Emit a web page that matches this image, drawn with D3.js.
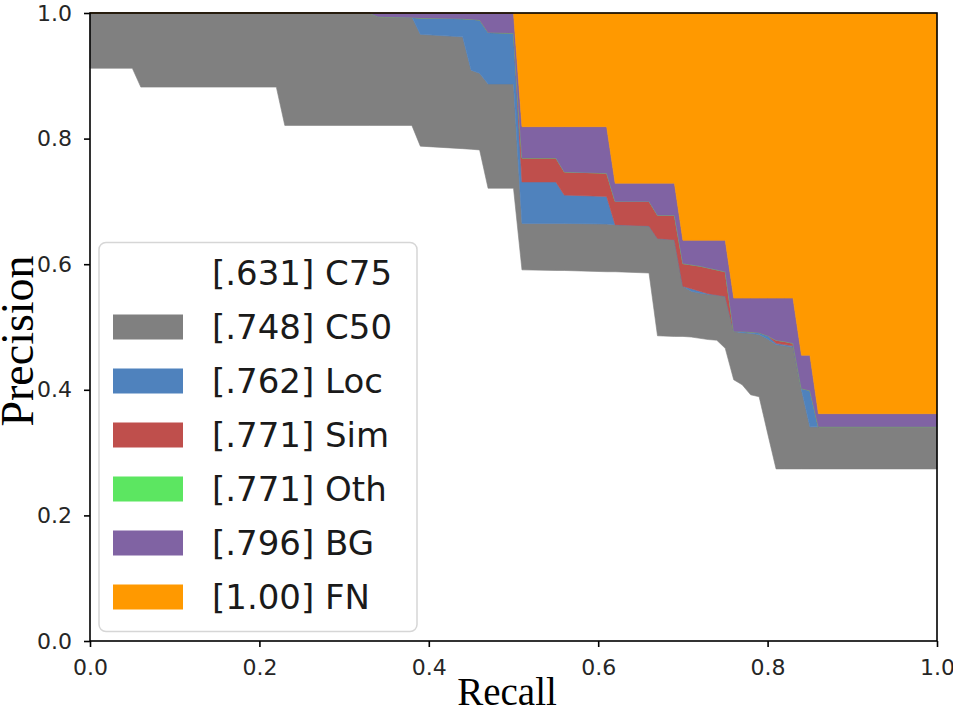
<!DOCTYPE html>
<html>
<head>
<meta charset="utf-8">
<script src="https://cdn.jsdelivr.net/npm/d3@7"></script>
<style>
  body { margin: 0; background: #fff; }
  svg { display: block; }
</style>
</head>
<body>
<svg width="953" height="711"></svg>
<script>
// recall breakpoints shared by every curve
var recall = [0, 0.05, 0.06, 0.22, 0.23, 0.33, 0.34, 0.38, 0.39, 0.44, 0.45, 0.46, 0.47, 0.50,
              0.51, 0.55, 0.56, 0.61, 0.62, 0.66, 0.67, 0.69, 0.70, 0.71, 0.72, 0.73, 0.74, 0.75,
              0.76, 0.77, 0.78, 0.79, 0.80, 0.81, 0.82, 0.83, 0.84, 0.85, 0.86, 1.00];

// precision of each curve at those recall values
var pC75 = [0.912, 0.912, 0.882, 0.882, 0.821, 0.821, 0.821, 0.821, 0.788, 0.784, 0.783, 0.782, 0.721, 0.721,
            0.591, 0.590, 0.590, 0.588, 0.588, 0.586, 0.486, 0.485, 0.485, 0.484, 0.482, 0.480, 0.479, 0.466,
            0.416, 0.408, 0.392, 0.389, 0.331, 0.274, 0.274, 0.274, 0.274, 0.274, 0.274, 0.274];
var pC50 = [1, 1, 1, 1, 1, 1, 0.994, 0.994, 0.966, 0.962, 0.909, 0.904, 0.887, 0.887,
            0.665, 0.665, 0.665, 0.664, 0.663, 0.661, 0.641, 0.639, 0.565, 0.557, 0.554, 0.552, 0.551, 0.549,
            0.493, 0.491, 0.490, 0.488, 0.481, 0.472, 0.470, 0.468, 0.400, 0.341, 0.341, 0.341];
var pLoc = [1, 1, 1, 1, 1, 1, 0.994, 0.993, 0.992, 0.991, 0.990, 0.989, 0.969, 0.968,
            0.731, 0.731, 0.710, 0.708, 0.663, 0.661, 0.641, 0.639, 0.565, 0.561, 0.557, 0.553, 0.551, 0.549,
            0.493, 0.493, 0.492, 0.491, 0.486, 0.474, 0.472, 0.470, 0.402, 0.399, 0.341, 0.341];
var pSim = [1, 1, 1, 1, 1, 1, 0.994, 0.993, 0.992, 0.991, 0.990, 0.989, 0.969, 0.968,
            0.769, 0.769, 0.747, 0.745, 0.700, 0.700, 0.678, 0.678, 0.601, 0.599, 0.597, 0.594, 0.591, 0.588,
            0.493, 0.493, 0.492, 0.491, 0.486, 0.479, 0.477, 0.474, 0.402, 0.399, 0.341, 0.341];
var pOth = pSim.slice();
var pBG  = [1, 1, 1, 1, 1, 1, 1, 1, 1, 1, 1, 1, 1, 1,
            0.819, 0.819, 0.819, 0.819, 0.729, 0.729, 0.729, 0.729, 0.638, 0.638, 0.638, 0.638, 0.638, 0.638,
            0.546, 0.546, 0.546, 0.546, 0.546, 0.546, 0.546, 0.546, 0.455, 0.455, 0.362, 0.362];
var pFN  = recall.map(function() { return 1; });

var types  = ["C75", "C50", "Loc", "Sim", "Oth", "BG", "FN"];
var aps    = ["[.631]", "[.748]", "[.762]", "[.771]", "[.771]", "[.796]", "[1.00]"];
var colors = ["#ffffff", "#808080", "#4f82bd", "#bf4f4c", "#5ce661", "#8063a3", "#ff9900"];
var curves = [pC75, pC50, pLoc, pSim, pOth, pBG, pFN];

var ticks = [0, 0.2, 0.4, 0.6, 0.8, 1.0];

const svg = d3.select("svg");
var plotLeft = 90, plotRight = 937, plotTop = 13, plotBottom = 641;

var x = d3.scaleLinear().domain([0, 1]).range([plotLeft, plotRight]);
var y = d3.scaleLinear().domain([0, 1]).range([plotBottom, plotTop]);

// filled bands between successive curves
var layers = curves.map(function(c, k) {
    var lower = k == 0 ? recall.map(function() { return 0; }) : curves[k - 1];
    return recall.map(function(r, i) { return {r: r, lo: lower[i], hi: c[i]}; });
});

var area = d3.area()
    .x(function(d) { return x(d.r); })
    .y0(function(d) { return y(d.lo); })
    .y1(function(d) { return y(d.hi); });

svg.append("g")
  .selectAll("path")
  .data(layers)
  .join("path")
    .attr("d", area)
    .attr("fill", function(d, k) { return colors[k]; })
    .attr("stroke", function(d, k) { return colors[k]; })
    .attr("stroke-width", 0.6);

// axes
var xAxis = d3.axisBottom(x).tickValues(ticks).tickFormat(d3.format(".1f")).tickSize(6).tickPadding(12);
var yAxis = d3.axisLeft(y).tickValues(ticks).tickFormat(d3.format(".1f")).tickSize(6).tickPadding(12);

var gx = svg.append("g").attr("transform", "translate(0," + plotBottom + ")").call(xAxis);
var gy = svg.append("g").attr("transform", "translate(" + plotLeft + ",0)").call(yAxis);

[gx, gy].forEach(function(g) {
    g.select(".domain").remove();
    g.selectAll(".tick line").attr("stroke", "#000").attr("stroke-width", 1.6);
    g.selectAll(".tick text")
      .attr("fill", "#262626")
      .style("font-family", "DejaVu Sans")
      .style("font-size", "22px");
});

// frame
svg.append("rect")
    .attr("x", plotLeft).attr("y", plotTop)
    .attr("width", plotRight - plotLeft).attr("height", plotBottom - plotTop)
    .attr("fill", "none")
    .attr("stroke", "#000")
    .attr("stroke-width", 1.6);

// axis titles
svg.append("text")
    .attr("x", 507).attr("y", 705)
    .attr("text-anchor", "middle")
    .style("font-family", "Liberation Serif")
    .style("font-size", "39px")
    .text("Recall");

svg.append("text")
    .attr("transform", "translate(33,341) rotate(-90)")
    .attr("text-anchor", "middle")
    .style("font-family", "Liberation Serif")
    .style("font-size", "46px")
    .text("Precision");

// legend
var legend = svg.append("g");
legend.append("rect")
    .attr("x", 99).attr("y", 242.5)
    .attr("width", 318).attr("height", 389)
    .attr("rx", 7)
    .attr("fill", "#fff").attr("fill-opacity", 0.85)
    .attr("stroke", "#d6d6d6")
    .attr("stroke-width", 1.5);

var rowY = [273, 327, 381, 435, 489, 543, 597];
var items = legend.selectAll("g.item")
  .data(types)
  .join("g")
    .attr("class", "item")
    .attr("transform", function(d, i) { return "translate(0," + rowY[i] + ")"; });

items.append("rect")
    .attr("x", 113).attr("y", -12.5)
    .attr("width", 70).attr("height", 25)
    .attr("fill", function(d, i) { return colors[i]; });

items.append("text")
    .attr("x", 212)
    .attr("dy", "0.36em")
    .attr("fill", "#1a1a1a")
    .style("font-family", "DejaVu Sans")
    .style("font-size", "34px")
    .text(function(d, i) { return aps[i] + " " + d; });
</script>
</body>
</html>
